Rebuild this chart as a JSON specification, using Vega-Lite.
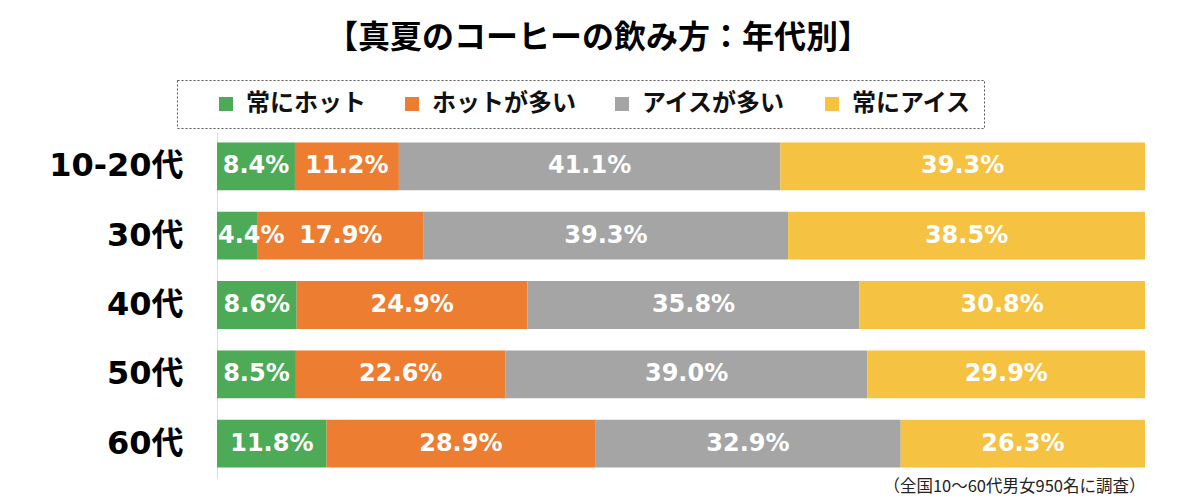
{
  "$schema": "https://vega.github.io/schema/vega-lite/v6.json",
  "autosize": {"type": "none"},
  "width": 928,
  "height": 346,
  "padding": {"left": 217, "top": 132, "right": 55, "bottom": 26},
  "background": "white",
  "title": {
    "text": "【真夏のコーヒーの飲み方：年代別】",
    "font": "Noto Sans CJK JP",
    "fontSize": 32,
    "fontWeight": "bold",
    "color": "#000",
    "anchor": "middle",
    "frame": "group",
    "dx": -83,
    "offset": 25
  },
  "config": {
    "view": {"stroke": null},
    "font": "Noto Sans CJK JP",
    "legend": {"strokeColor": "#555", "strokeDash": [2, 2], "padding": 12}
  },
  "data": {
    "values": [
      {"age": "10-20代", "cat": "常にホット", "ord": 1, "pct": 8.4},
      {"age": "10-20代", "cat": "ホットが多い", "ord": 2, "pct": 11.2},
      {"age": "10-20代", "cat": "アイスが多い", "ord": 3, "pct": 41.1},
      {"age": "10-20代", "cat": "常にアイス", "ord": 4, "pct": 39.3},
      {"age": "30代", "cat": "常にホット", "ord": 1, "pct": 4.4},
      {"age": "30代", "cat": "ホットが多い", "ord": 2, "pct": 17.9},
      {"age": "30代", "cat": "アイスが多い", "ord": 3, "pct": 39.3},
      {"age": "30代", "cat": "常にアイス", "ord": 4, "pct": 38.5},
      {"age": "40代", "cat": "常にホット", "ord": 1, "pct": 8.6},
      {"age": "40代", "cat": "ホットが多い", "ord": 2, "pct": 24.9},
      {"age": "40代", "cat": "アイスが多い", "ord": 3, "pct": 35.8},
      {"age": "40代", "cat": "常にアイス", "ord": 4, "pct": 30.8},
      {"age": "50代", "cat": "常にホット", "ord": 1, "pct": 8.5},
      {"age": "50代", "cat": "ホットが多い", "ord": 2, "pct": 22.6},
      {"age": "50代", "cat": "アイスが多い", "ord": 3, "pct": 39.0},
      {"age": "50代", "cat": "常にアイス", "ord": 4, "pct": 29.9},
      {"age": "60代", "cat": "常にホット", "ord": 1, "pct": 11.8},
      {"age": "60代", "cat": "ホットが多い", "ord": 2, "pct": 28.9},
      {"age": "60代", "cat": "アイスが多い", "ord": 3, "pct": 32.9},
      {"age": "60代", "cat": "常にアイス", "ord": 4, "pct": 26.3}
    ]
  },
  "transform": [
    {"stack": "pct", "groupby": ["age"], "sort": [{"field": "ord", "order": "ascending"}], "offset": "normalize", "as": ["x0", "x1"]},
    {"calculate": "(datum.x0 + datum.x1) / 2", "as": "mid"},
    {"calculate": "format(datum.pct, '.1f') + '%'", "as": "label"}
  ],
  "encoding": {
    "y": {
      "field": "age",
      "type": "nominal",
      "sort": ["10-20代", "30代", "40代", "50代", "60代"],
      "scale": {"paddingInner": 0.31, "paddingOuter": 0.15},
      "axis": {
        "title": null,
        "labelFont": "DejaVu Sans, Noto Sans CJK JP",
        "labelFontSize": 32,
        "labelFontWeight": "bold",
        "labelColor": "#000",
        "labelPadding": 34,
        "ticks": false,
        "domainColor": "#dddddd",
        "domainWidth": 1
      }
    }
  },
  "layer": [
    {
      "mark": {"type": "bar"},
      "encoding": {
        "x": {
          "field": "x0",
          "type": "quantitative",
          "scale": {"domain": [0, 1], "nice": false},
          "axis": {
            "orient": "bottom",
            "labels": false,
            "ticks": false,
            "domain": false,
            "grid": false,
            "title": "（全国10～60代男女950名に調査）",
            "titleFont": "Noto Sans CJK JP",
            "titleFontSize": 16.5,
            "titleFontWeight": "normal",
            "titleColor": "#222",
            "titleAnchor": "end",
            "titlePadding": 0
          }
        },
        "x2": {"field": "x1"},
        "color": {
          "field": "cat",
          "type": "nominal",
          "scale": {
            "domain": ["常にホット", "ホットが多い", "アイスが多い", "常にアイス"],
            "range": ["#4DAA57", "#ED7D31", "#A5A5A5", "#F5C242"]
          },
          "legend": {
            "title": null,
            "orient": "none",
            "legendX": -40,
            "legendY": -52,
            "direction": "horizontal",
            "columns": 4,
            "columnPadding": 9,
            "symbolType": "square",
            "symbolSize": 196,
            "symbolStrokeWidth": 0,
            "symbolOffset": 25,
            "labelOffset": 8,
            "labelFont": "Noto Sans CJK JP",
            "labelFontSize": 24,
            "labelFontWeight": "bold",
            "labelColor": "#111",
            "labelLimit": 300
          }
        }
      }
    },
    {
      "transform": [{"filter": "datum.pct >= 5"}],
      "mark": {"type": "text", "color": "white", "font": "DejaVu Sans", "fontSize": 24, "fontWeight": "bold", "align": "center", "baseline": "middle"},
      "encoding": {
        "x": {"field": "mid", "type": "quantitative"},
        "text": {"field": "label"}
      }
    },
    {
      "transform": [{"filter": "datum.pct < 5"}],
      "mark": {"type": "text", "color": "white", "font": "DejaVu Sans", "fontSize": 24, "fontWeight": "bold", "align": "left", "baseline": "middle", "dx": 1},
      "encoding": {
        "x": {"field": "x0", "type": "quantitative"},
        "text": {"field": "label"}
      }
    }
  ]
}
